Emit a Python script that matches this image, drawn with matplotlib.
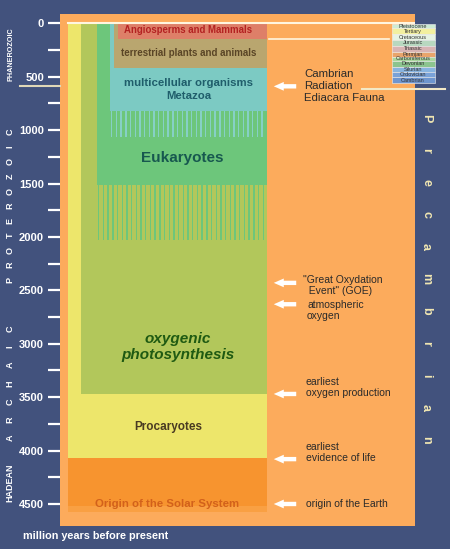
import matplotlib
matplotlib.use("Agg")
import matplotlib.pyplot as plt
import numpy as np

plt.rcParams['font.family'] = ['Liberation Sans', 'DejaVu Sans']

# --- data (million years before present) ---
group_names = ['Procaryotes', 'oxygenic photosynthesis', 'Eukaryotes',
               'multicellular organisms Metazoa', 'terrestrial plants and animals',
               'Angiosperms and Mammals']
group_first = [4070, 3470, 1515, 820, 420, 147]
euk_stripes = [1515, 2030]
meta_stripes = [820, 1065]
solar_system = [4070, 4520, 4575]

event_names = ['Cambrian Radiation', 'Great Oxydation Event', 'atmospheric oxygen',
               'earliest oxygen production', 'earliest evidence of life',
               'origin of the Earth']
event_my = [590, 2430, 2630, 3470, 4080, 4500]

period_names = ['Pleistocene', 'Tertiary', 'Cretaceous', 'Jurassic', 'Triassic',
                'Permian', 'Carboniferous', 'Devonian', 'Silurian', 'Ordovician',
                'Cambrian']
period_bounds = [8, 47, 103, 159, 209, 266, 312, 350, 406, 458, 500, 562]

tick_vals = list(range(0, 4501, 250))
tick_text = [str(v) if v % 500 == 0 else '' for v in tick_vals]

# --- styles / layout ---
bg = '#42527d'
orange = '#fcab5c'
group_colors = ['#ede66b', '#b2c75b', '#6dc67b', '#7ccac3', '#b9a66f', '#de7f68']
group_left = [68, 81, 97, 110, 114, 118]
block_right = 267
period_colors = ['#cdebd5', '#f2f0a0', '#e6f3e3', '#b8d8c0', '#d9b4b4', '#e8a46c',
                 '#a9d79f', '#8cc48f', '#88b4e0', '#7aa2d8', '#6f96cf']

fig = plt.figure(figsize=(4.5, 5.49), dpi=100, facecolor=bg)
W, H = 450, 549
ax = fig.add_axes([60 / W, (H - 526) / H, 355 / W, 512 / H])
ax.set_facecolor(orange)
ax.set_xlim(60, 415)
px = 0.10682
ax.set_ylim((526 - 23.3) / px, (14 - 23.3) / px)
for s in ax.spines.values():
    s.set_visible(False)
ax.set_xticks([])
ax.set_yticks(tick_vals)
ax.set_yticklabels(tick_text)
ax.tick_params(axis='y', color='white', labelcolor='white', length=8.6, width=1.6,
               direction='out', pad=3, labelsize=8)
for lbl in ax.get_yticklabels():
    lbl.set_fontweight('bold')

# life groups, painted from oldest to youngest
for left, first, col in zip(group_left, group_first, group_colors):
    ax.bar(left, first, bottom=0, width=block_right - left, align='edge',
           color=col, linewidth=0)

# solar system block
ax.bar(68, solar_system[1] - solar_system[0], bottom=solar_system[0],
       width=block_right - 68, align='edge', color='#f7942f', linewidth=0)
ax.bar(68, solar_system[2] - solar_system[1], bottom=solar_system[1],
       width=block_right - 68, align='edge', color='#f9a043', linewidth=0)

# striped transition zones
xs = np.arange(98, 266, 4.7)
ax.bar(xs, euk_stripes[1] - euk_stripes[0], bottom=euk_stripes[0], width=1.4,
       align='edge', color=group_colors[2], linewidth=0)
xs2 = np.arange(111, 266, 4.7)
ax.bar(xs2, meta_stripes[1] - meta_stripes[0], bottom=meta_stripes[0], width=1.4,
       align='edge', color='#86d0c6', linewidth=0)

# white lines
ax.plot([68, 415], [0, 0], color='#fff6e0', lw=1.5)
ax.plot([269, 389], [147, 147], color='#fff6e0', lw=1.2)
ax.plot([362, 445], [615, 615], color='#f3e9c6', lw=1.5, clip_on=False)
ax.plot([20, 60], [587, 587], color='#e0d8b8', lw=1.5, clip_on=False)

# period legend
for i, name in enumerate(period_names):
    lo, hi = period_bounds[i], period_bounds[i + 1]
    ax.bar(392, hi - lo, bottom=lo, width=43, align='edge', color=period_colors[i],
           edgecolor='#f0f0f0', linewidth=0.4, clip_on=False)
    ax.text(413, (lo + hi) / 2, name, fontsize=4, color='#333333',
            ha='center', va='center')

# group labels
ax.text(188, 63, 'Angiosperms and Mammals', fontsize=6.9, fontweight='bold',
        color='#b42222', ha='center', va='center')
ax.text(189, 278, 'terrestrial plants and animals', fontsize=7, fontweight='bold',
        color='#5a4526', ha='center', va='center')
ax.text(189, 620, 'multicellular organisms\nMetazoa', fontsize=8.2, fontweight='bold',
        color='#1f5e6b', ha='center', va='center', linespacing=1.3)
ax.text(182, 1261, 'Eukaryotes', fontsize=11, fontweight='bold',
        color='#17584f', ha='center', va='center')
ax.text(178, 3030, 'oxygenic\nphotosynthesis', fontsize=11, fontweight='bold',
        style='italic', color='#1f5a12', ha='center', va='center', linespacing=1.25)
ax.text(168, 3779, 'Procaryotes', fontsize=8.5, fontweight='bold',
        color='#4a3b22', ha='center', va='center')
ax.text(167, 4500, 'Origin of the Solar System', fontsize=8.2, fontweight='bold',
        color='#d2611b', ha='center', va='center')

# events with arrows
for y in event_my:
    ax.annotate('', xy=(271, y), xytext=(299, y),
                arrowprops=dict(arrowstyle='simple,head_width=0.7,head_length=0.8,tail_width=0.35',
                                mutation_scale=9, color='white', lw=0))
ev_text = [
    (304, 587, 'Cambrian\nRadiation\nEdiacara Fauna', 8.2),
    (303, 2455, '"Great Oxydation\n  Event" (GOE)', 7.5),
    (307, 2690, 'atmospheric\noxygen', 7.5),
    (306, 3410, 'earliest\noxygen production', 7.5),
    (306, 4018, 'earliest\nevidence of life', 7.5),
    (306, 4500, 'origin of the Earth', 7.5),
]
for x, y, txt, fs in ev_text:
    ax.text(x, y, txt, fontsize=fs, color='#2a2a2a', ha='left', va='center',
            linespacing=1.2)

# eon labels on the left
ax.text(11, 285, 'PHANEROZOIC', fontsize=5.2, fontweight='bold', color='white',
        rotation=90, ha='center', va='center')
for i, ch in enumerate('PROTEROZOIC'):
    ax.text(10, (280 - 14.8 * i - 23.3) / px, ch, fontsize=6.5, fontweight='bold',
            color='white', rotation=90, ha='center', va='center')
ax.text(10, (483 - 23.3) / px, 'HADEAN', fontsize=6.5, fontweight='bold',
        color='white', rotation=90, ha='center', va='center')
for i, ch in enumerate('ARCHAIC'):
    ax.text(10, (438 - 18.2 * i - 23.3) / px, ch, fontsize=6.5, fontweight='bold',
            color='white', rotation=90, ha='center', va='center')

# Precambrian on the right
for i, ch in enumerate('Precambrian'):
    ax.text(426, (118 + 32.2 * i - 23.3) / px, ch, fontsize=9, fontweight='bold',
            color='#f0e6b2', rotation=-90, ha='center', va='center')

fig.text(23 / W, 1 - 536 / H, 'million years before present', fontsize=7.8,
         fontweight='bold', color='white', ha='left', va='center')

fig.savefig('out.png', dpi=100, facecolor=bg)
